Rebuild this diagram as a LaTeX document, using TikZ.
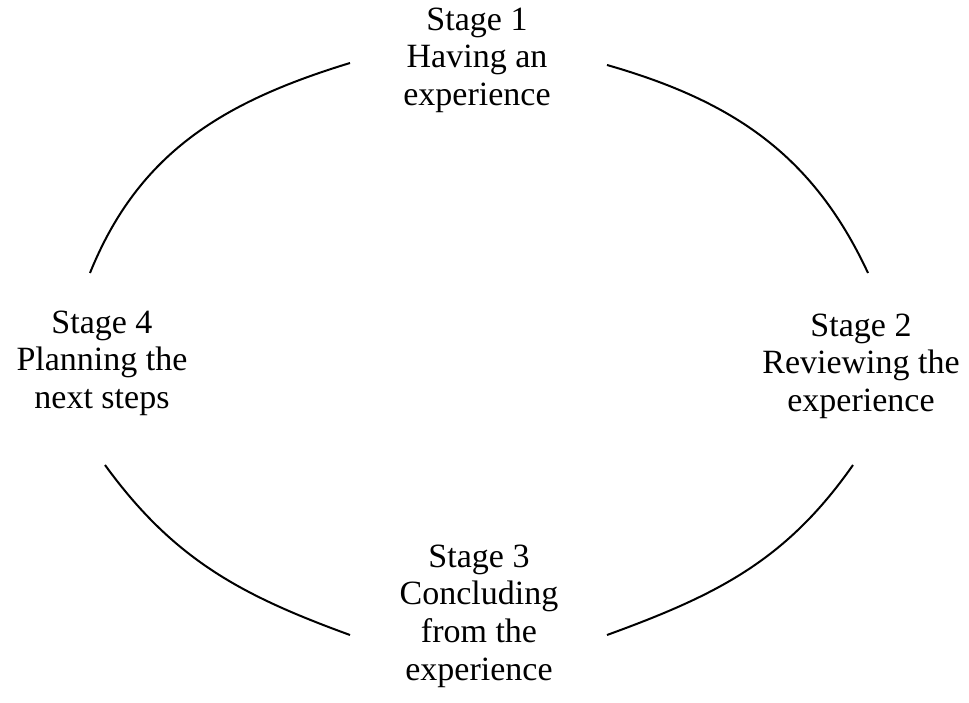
\documentclass[tikz,border=0pt]{standalone}
\usepackage{fontspec}
\setmainfont{Liberation Serif}
\usetikzlibrary{positioning}

\begin{document}
\begin{tikzpicture}[x=0.5pt,y=0.5pt]
\tikzstyle{every node}=[align=center,inner sep=0pt,font=\fontsize{17}{18.8}\selectfont]
\tikzstyle{cycle arc}=[line width=1pt]
\useasboundingbox (0,0) rectangle (969,702);
% stages
\node (stage1) at (477,642) {Stage 1\\Having an\\experience};
\node (stage2) at (861,336) {Stage 2\\Reviewing the\\experience};
\node (stage3) at (479,86) {Stage 3\\Concluding\\from the\\experience};
\node (stage4) at (102,339) {Stage 4\\Planning the\\next steps};
% ends of the arcs
\coordinate (tl1) at (90,429);  \coordinate (tl2) at (350,639);
\coordinate (tr1) at (607,637); \coordinate (tr2) at (868,429);
\coordinate (br1) at (853,237); \coordinate (br2) at (607,67);
\coordinate (bl1) at (105,237); \coordinate (bl2) at (350,67);
\draw[cycle arc] (tl1) to[out=68,in=197] (tl2);
\draw[cycle arc] (tr1) to[out=-16,in=115] (tr2);
\draw[cycle arc] (br1) to[out=-125,in=20] (br2);
\draw[cycle arc] (bl1) to[out=-54,in=160] (bl2);
\end{tikzpicture}
\end{document}
